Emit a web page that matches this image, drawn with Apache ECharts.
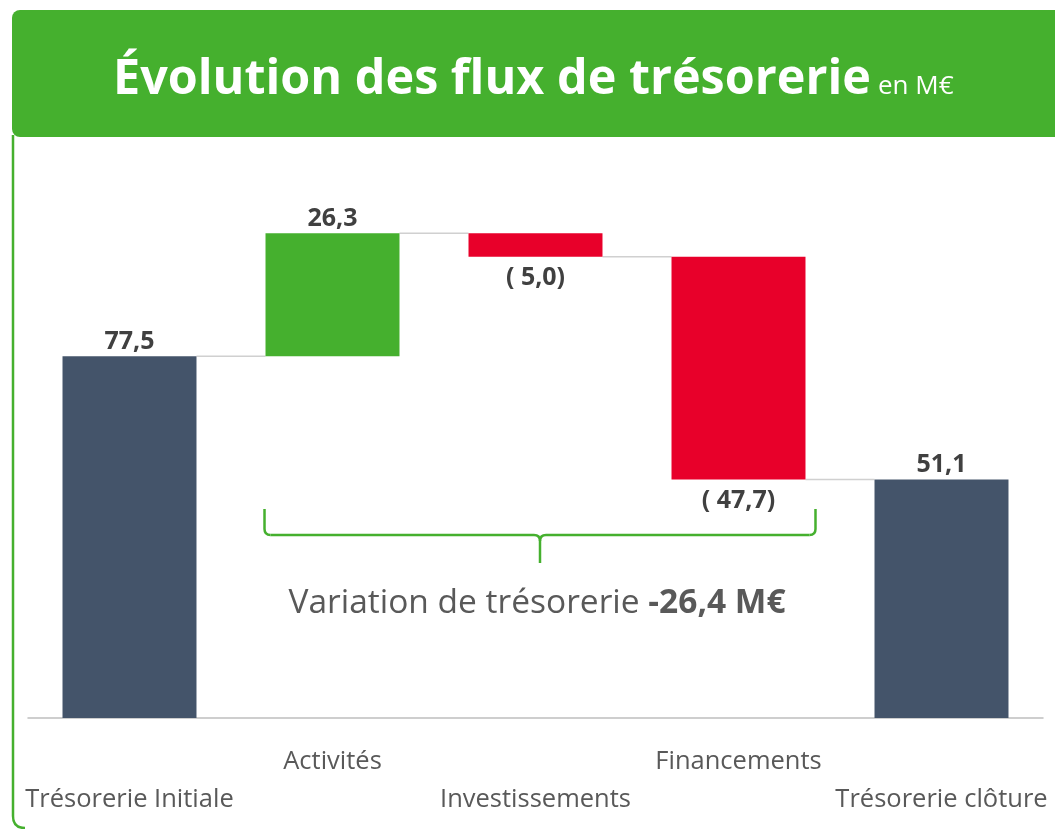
<!DOCTYPE html>
<html><head><meta charset="utf-8">
<script src="https://cdn.jsdelivr.net/npm/echarts@6/dist/echarts.min.js"></script>
<style>html,body{margin:0;padding:0;background:#fff}#c{width:1055px;height:829px}</style>
</head><body><div id="c"></div>
<script>
// ---- data ----
const categories = ['Trésorerie Initiale', 'Activités', 'Investissements', 'Financements', 'Trésorerie clôture'];
const barValues = [77.5, 26.3, -5.0, -47.7, 51.1];
const barKinds = ['total', 'flow', 'flow', 'flow', 'total'];
const titleMain = 'Évolution des flux de trésorerie';
const titleUnit = 'en M€';
const braceLabel = 'Variation de trésorerie';

// ---- derived waterfall ----
const FONT = '"Open Sans", "Noto Sans", sans-serif';
const colors = { total: '#44546A', up: '#45B02E', down: '#E8002A' };
const fmt = v => Math.abs(v).toFixed(1).replace('.', ',');
let running = 0;
const bases = [], heights = [], levels = [], itemColors = [];
barValues.forEach((v, i) => {
  if (barKinds[i] === 'total') {
    bases.push(0); heights.push(v); running = v; itemColors.push(colors.total);
  } else {
    const next = running + v;
    bases.push(Math.min(running, next)); heights.push(Math.abs(v));
    running = next; itemColors.push(v >= 0 ? colors.up : colors.down);
  }
  levels.push(running);
});
const variation = barValues[barValues.length - 1] - barValues[0];

const chart = echarts.init(document.getElementById('c'));
const BAR_RATIO = 0.66;
const lineEl = (x1, y1, x2, y2, stroke, w) => ({ type: 'line', z: 3, shape: { x1, y1, x2, y2 }, style: { stroke, lineWidth: w } });
const curveEl = (x1, y1, cx, cy, x2, y2, stroke, w) => ({ type: 'bezierCurve', z: 3, shape: { x1, y1, cpx1: cx, cpy1: cy, x2, y2 }, style: { stroke, lineWidth: w, fill: 'none' } });

chart.setOption({
  animation: false,
  grid: { left: 28, right: 12, top: 111, bottom: 111 },
  xAxis: {
    type: 'category', data: categories,
    axisLine: { lineStyle: { color: '#BFBFBF', width: 1.5 } },
    axisTick: { show: false },
    axisLabel: {
      interval: 0, margin: 25, color: '#595959', fontSize: 25.5, fontFamily: FONT,
      lineHeight: 38, verticalAlign: 'top',
      formatter: (v, i) => (i % 2 ? v : '\n' + v)
    }
  },
  yAxis: { type: 'value', min: 0, max: 130, show: false, splitLine: { show: false } },
  series: [
    {
      type: 'bar', stack: 'w', data: bases, barWidth: (BAR_RATIO * 100) + '%',
      itemStyle: { color: 'transparent' }, silent: true
    },
    {
      type: 'bar', stack: 'w', barWidth: (BAR_RATIO * 100) + '%',
      data: heights.map((h, i) => ({
        value: h,
        itemStyle: { color: itemColors[i] },
        label: {
          show: true,
          position: barValues[i] < 0 ? 'bottom' : 'top',
          distance: barValues[i] < 0 ? 9 : 2,
          formatter: barValues[i] < 0 ? '( ' + fmt(barValues[i]) + ')' : fmt(barValues[i]),
          color: '#404040', fontSize: 25, fontWeight: 'bold', fontFamily: FONT
        }
      }))
    },
    {
      type: 'custom', silent: true, z: 1,
      data: levels.slice(0, -1).map((l, i) => [i, l]),
      renderItem: (params, api) => {
        const p = api.coord([api.value(0), api.value(1)]);
        const band = api.size([1, 0])[0];
        const half = band * BAR_RATIO / 2;
        return {
          type: 'line',
          shape: { x1: p[0] + half, y1: p[1], x2: p[0] + band - half, y2: p[1] },
          style: { stroke: '#D0D0D0', lineWidth: 1.5 }
        };
      }
    }
  ]
});

// decorations: header band, frame edge, brace annotation under the flow bars
const c1 = chart.convertToPixel({ xAxisIndex: 0 }, 1);
const c2 = chart.convertToPixel({ xAxisIndex: 0 }, 2);
const c3 = chart.convertToPixel({ xAxisIndex: 0 }, 3);
const half = (c3 - c2) * BAR_RATIO / 2;
const xL = c1 - half - 1, xR = c3 + half + 10, xM = (xL + xR) / 2;
const yT = 509, yH = 535, yTip = 563, G = '#45B02E', W = 2.5, r = 6;
chart.setOption({
  graphic: [
    { type: 'rect', shape: { x: 12, y: 10, width: 1060, height: 127, r: 8 }, style: { fill: '#45B02E' }, z: 0 },
    {
      type: 'text', x: 113, y: 80, z: 2,
      style: { text: titleMain, fontSize: 48.5, fontWeight: 'bold', fill: '#fff', fontFamily: FONT, verticalAlign: 'middle' }
    },
    {
      type: 'text', x: 878, y: 87, z: 2,
      style: { text: titleUnit, fontSize: 26, fill: '#fff', fontFamily: FONT, verticalAlign: 'middle' }
    },
    lineEl(13, 135, 13, 816, '#45B02E', 2.5),
    curveEl(13, 816, 13, 828, 25, 828, '#45B02E', 2.5),
    lineEl(xL, yT, xL, yH - r, G, W),
    curveEl(xL, yH - r, xL, yH, xL + r, yH, G, W),
    lineEl(xL + r, yH, xM - r, yH, G, W),
    curveEl(xM - r, yH, xM, yH, xM, yH + r, G, W),
    curveEl(xM + r, yH, xM, yH, xM, yH + r, G, W),
    lineEl(xM, yH + r, xM, yTip, G, W),
    lineEl(xM + r, yH, xR - r, yH, G, W),
    curveEl(xR - r, yH, xR, yH, xR, yH - r, G, W),
    lineEl(xR, yH - r, xR, yT, G, W),
    {
      type: 'text', x: xM - 3, y: 603, z: 3,
      style: {
        text: '{n|' + braceLabel + ' }{b|' + (variation < 0 ? '-' : '') + fmt(variation) + ' M€}',
        align: 'center', verticalAlign: 'middle',
        rich: {
          n: { fontSize: 33.5, fill: '#595959', fontFamily: FONT },
          b: { fontSize: 33.5, fill: '#595959', fontWeight: 'bold', fontFamily: FONT }
        }
      }
    }
  ]
});
</script></body></html>
